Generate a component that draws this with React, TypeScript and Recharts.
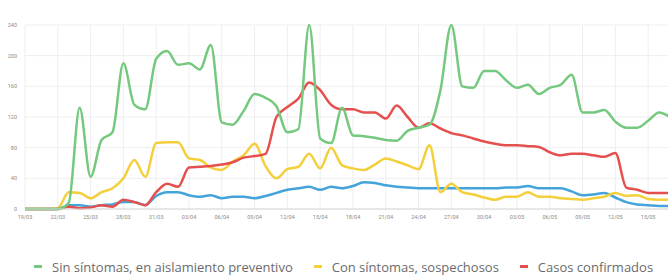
import React from 'react';
import { LineChart, Line, XAxis, YAxis, CartesianGrid, Legend } from 'recharts';

const dates = [
  '19/03', '20/03', '21/03', '22/03', '23/03', '24/03', '25/03', '26/03', '27/03', '28/03',
  '29/03', '30/03', '31/03', '01/04', '02/04', '03/04', '04/04', '05/04', '06/04', '07/04',
  '08/04', '09/04', '10/04', '11/04', '12/04', '13/04', '14/04', '15/04', '16/04', '17/04',
  '18/04', '19/04', '20/04', '21/04', '22/04', '23/04', '24/04', '25/04', '26/04', '27/04',
  '28/04', '29/04', '30/04', '01/05', '02/05', '03/05', '04/05', '05/05', '06/05', '07/05',
  '08/05', '09/05', '10/05', '11/05', '12/05', '13/05', '14/05', '15/05', '16/05', '17/05',
];

const sinSintomas = [
  0, 0, 0, 0, 8, 132, 42, 90, 100, 190,
  136, 130, 196, 206, 188, 190, 182, 214, 113, 110,
  128, 150, 145, 134, 100, 104, 240, 92, 86, 132,
  96, 95, 93, 90, 89, 102, 106, 110, 155, 240,
  160, 158, 180, 180, 168, 158, 162, 150, 158, 162,
  175, 126, 126, 129, 114, 106, 106, 115, 126, 120,
];

const conSintomas = [
  0, 0, 0, 1, 22, 21, 14, 22, 27, 40,
  64, 42, 86, 87, 87, 66, 64, 54, 51, 62,
  70, 85, 56, 40, 52, 55, 72, 53, 80, 57,
  53, 51, 58, 66, 62, 57, 52, 83, 22, 33,
  22, 19, 15, 12, 16, 16, 22, 16, 16, 14,
  13, 12, 14, 16, 21, 17, 18, 13, 12, 12,
];

const confirmados = [
  0, 0, 0, 0, 3, 1, 2, 5, 3, 12,
  9, 5, 22, 33, 29, 54, 55, 56, 58, 61,
  67, 69, 72, 120, 133, 144, 165, 155, 136, 130,
  130, 126, 126, 118, 135, 120, 106, 112, 105, 99,
  96, 92, 88, 85, 83, 83, 82, 81, 74, 70,
  72, 72, 70, 68, 73, 28, 25, 21, 21, 21,
];

const otros = [
  0, 0, 0, 0, 5, 5, 3, 5, 6, 9,
  9, 5, 17, 22, 22, 18, 16, 18, 14, 16,
  16, 14, 17, 21, 25, 27, 29, 25, 29, 27,
  30, 35, 34, 31, 29, 28, 27, 27, 27, 27,
  27, 27, 27, 27, 28, 28, 30, 27, 27, 27,
  23, 18, 19, 21, 15, 9, 6, 5, 4, 4,
];

const xTicks = [
  '19/03', '22/03', '25/03', '28/03', '31/03', '03/04', '06/04', '09/04', '12/04', '15/04',
  '18/04', '21/04', '24/04', '27/04', '30/04', '03/05', '06/05', '09/05', '12/05', '15/05',
];
const yTicks = [0, 40, 80, 120, 160, 200, 240];

const seriesNames = [
  'Sin síntomas, en aislamiento preventivo',
  'Con síntomas, sospechosos',
  'Casos confirmados',
  'Otros',
];
const seriesColors = ['#74c97e', '#f2cf3b', '#e5504f', '#43a3da'];

const data = dates.map((d, i) => ({
  date: d,
  sin: sinSintomas[i],
  con: conSintomas[i],
  conf: confirmados[i],
  otros: otros[i],
}));

const font = 'Roboto, "Open Sans", sans-serif';
const legendFont = '"Open Sans", Roboto, sans-serif';

const renderLegend = () => (
  <div
    style={{
      height: 20,
      display: 'flex',
      alignItems: 'center',
      paddingLeft: 34,
      paddingTop: 3,
      boxSizing: 'border-box',
      whiteSpace: 'nowrap',
      fontFamily: legendFont,
      fontSize: 13,
      color: '#6b6b6b',
    }}
  >
    {seriesNames.slice(0, 3).map((name, i) => (
      <div key={name} style={{ display: 'flex', alignItems: 'center', marginRight: 21 }}>
        <span
          style={{
            display: 'inline-block',
            width: 8,
            height: 3,
            background: seriesColors[i],
            marginRight: 10,
          }}
        />
        <span>{name}</span>
      </div>
    ))}
  </div>
);

export default function App() {
  return (
    <div style={{ position: 'absolute', left: 0, top: 0, width: 668, height: 275, overflow: 'hidden', background: '#fff' }}>
      <LineChart width={680} height={275} data={data} margin={{ top: 25, right: 10, left: 0, bottom: 0 }}>
        <CartesianGrid stroke="#eeeeee" strokeWidth={1} />
        <XAxis
          dataKey="date"
          ticks={xTicks}
          interval={0}
          height={46}
          tickSize={0}
          tickMargin={6}
          axisLine={{ stroke: '#d6d6d6' }}
          tick={{ fontSize: 5.5, fill: '#8a8a8a', fontFamily: font }}
        />
        <YAxis
          domain={[0, 240]}
          ticks={yTicks}
          width={25}
          tickSize={0}
          tickMargin={8}
          axisLine={false}
          tick={{ fontSize: 5.5, fill: '#8a8a8a', fontFamily: font }}
        />
        <Legend verticalAlign="bottom" align="left" height={20} content={renderLegend} />
        <Line type="monotone" dataKey="otros" name={seriesNames[3]} stroke={seriesColors[3]} strokeWidth={2.5} dot={false} isAnimationActive={false} legendType="none" />
        <Line type="monotone" dataKey="con" name={seriesNames[1]} stroke={seriesColors[1]} strokeWidth={2.5} dot={false} isAnimationActive={false} />
        <Line type="monotone" dataKey="conf" name={seriesNames[2]} stroke={seriesColors[2]} strokeWidth={2.5} dot={false} isAnimationActive={false} />
        <Line type="monotone" dataKey="sin" name={seriesNames[0]} stroke={seriesColors[0]} strokeWidth={2.5} dot={false} isAnimationActive={false} />
      </LineChart>
    </div>
  );
}
